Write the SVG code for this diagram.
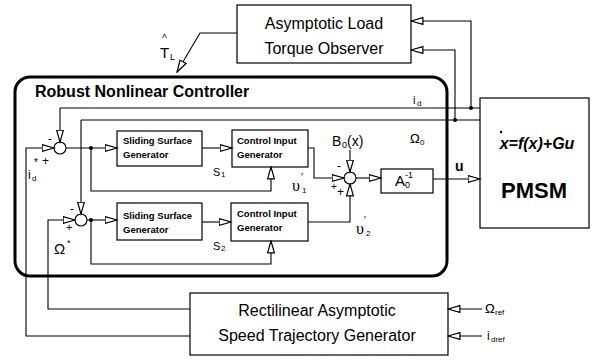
<svg xmlns="http://www.w3.org/2000/svg" width="596" height="360" viewBox="0 0 596 360">
<style>
.box{fill:#fff;stroke:#000;stroke-width:1.2}
.ln{fill:none;stroke:#000;stroke-width:1.1}
.arr{fill:none;stroke:#000;stroke-width:1.1;marker-end:url(#ah)}
.t{font-family:"Liberation Sans",Arial,sans-serif;fill:#000}
.big{font-size:16px}
.sm{font-size:9.5px;font-weight:bold}
.ups{font-family:"Liberation Serif","Times New Roman",serif;font-size:16px;fill:#000}
.sum{fill:#fff;stroke:#000;stroke-width:1.1}
</style>
<defs>
<marker id="ah" markerWidth="14" markerHeight="9" refX="12.5" refY="4" orient="auto" markerUnits="userSpaceOnUse">
<path d="M0.6,0.6 L12.5,4 L0.6,7.4 z" fill="#fff" stroke="#000" stroke-width="1.2"/>
</marker>
</defs>
<rect width="596" height="360" fill="#fff"/>

<g id="controller">
<rect x="15" y="77" width="432" height="199" rx="15" fill="none" stroke="#000" stroke-width="3"/>
<text class="t" x="35" y="97" font-size="16" font-weight="bold">Robust Nonlinear Controller</text>
</g>

<g id="observer">
<rect class="box" x="237" y="5" width="174" height="58"/>
<text class="t big" x="324" y="29" text-anchor="middle">Asymptotic Load</text>
<text class="t big" x="324" y="54" text-anchor="middle">Torque Observer</text>
</g>

<g id="generator">
<rect class="box" x="190" y="293" width="258" height="62"/>
<text class="t big" x="317" y="316" text-anchor="middle">Rectilinear Asymptotic</text>
<text class="t big" x="317" y="341" text-anchor="middle">Speed Trajectory Generator</text>
</g>

<g id="pmsm">
<rect class="box" x="480" y="98" width="109" height="130"/>
<text class="t" x="537" y="149" font-size="16" font-weight="bold" font-style="italic" text-anchor="middle">x=f(x)+Gu</text>
<circle cx="501" cy="132" r="1.2" fill="#000"/>
<text class="t" x="534" y="198" font-size="22" font-weight="bold" text-anchor="middle">PMSM</text>
</g>

<g id="ssg1">
<rect class="box" x="117" y="131" width="85" height="35"/>
<text class="t sm" x="123" y="144">Sliding Surface</text>
<text class="t sm" x="123" y="158">Generator</text>
</g>
<g id="cig1">
<rect class="box" x="232" y="130" width="76" height="37"/>
<text class="t sm" x="237" y="144">Control Input</text>
<text class="t sm" x="237" y="158">Generator</text>
</g>
<g id="ssg2">
<rect class="box" x="117" y="203" width="85" height="37"/>
<text class="t sm" x="123" y="219">Sliding Surface</text>
<text class="t sm" x="123" y="233">Generator</text>
</g>
<g id="cig2">
<rect class="box" x="231" y="203" width="77" height="38"/>
<text class="t sm" x="237" y="217">Control Input</text>
<text class="t sm" x="237" y="231">Generator</text>
</g>
<g id="ainv">
<rect class="box" x="381" y="169" width="52" height="24"/>
<text class="t" x="395" y="186" font-size="15">A</text>
<text class="t" x="405" y="188" font-size="9">0</text>
<text class="t" x="405" y="178" font-size="9">-1</text>
</g>

<g id="sum1"><circle class="sum" cx="60" cy="148" r="6"/></g>
<g id="sum2"><circle class="sum" cx="81" cy="220" r="6"/></g>
<g id="sum3"><circle class="sum" cx="350" cy="178" r="6"/></g>

<g id="connectors">
<path class="arr" d="M471,108 V21 H411"/>
<path class="arr" d="M455,120 V50 H411"/>
<path class="arr" d="M237,33 H200 L177,72"/>
<path class="ln" d="M480,108 H60"/>
<path class="arr" d="M60,108 V142"/>
<path class="ln" d="M480,120 H81"/>
<path class="arr" d="M81,120 V214"/>
<circle cx="471" cy="108" r="2" fill="#000"/>
<circle cx="455" cy="120" r="2" fill="#000"/>
<path class="arr" d="M190,336 H26 V148 H54"/>
<path class="arr" d="M190,309 H48 V220 H75"/>
<path class="arr" d="M482,309 H448"/>
<path class="arr" d="M482,336 H448"/>
<path class="arr" d="M66,148 H117"/>
<circle cx="91" cy="148" r="2" fill="#000"/>
<path class="arr" d="M91,148 V191 H271 V167"/>
<path class="arr" d="M202,148 H232"/>
<path class="arr" d="M308,148 H314 V178 H344"/>
<path class="arr" d="M87,220 H117"/>
<circle cx="91" cy="220" r="2" fill="#000"/>
<path class="arr" d="M91,220 V264 H271 V241"/>
<path class="arr" d="M202,222 H231"/>
<path class="arr" d="M308,222 H350 V184"/>
<path class="arr" d="M350,150 V172"/>
<path class="arr" d="M356,178 H381"/>
<path class="arr" d="M433,179 H480"/>
</g>

<g id="labels">
<text class="t" x="160" y="58" font-size="15">T</text>
<text class="t" x="170" y="60" font-size="9">L</text>
<text class="t" x="162" y="42" font-size="10">^</text>
<text class="t" x="413" y="104" font-size="11">i</text>
<text class="t" x="417" y="106" font-size="8">d</text>
<text class="t" x="410" y="143" font-size="13">Ω</text>
<text class="t" x="420" y="145" font-size="8">0</text>
<text class="t" x="455" y="171" font-size="14" font-weight="bold">u</text>
<text class="t" x="332" y="146" font-size="14">B</text>
<text class="t" x="342" y="148" font-size="9">0</text>
<text class="t" x="347" y="146" font-size="14">(x)</text>
<text class="t" x="337" y="170" font-size="12">-</text>
<text class="t" x="331" y="190" font-size="10">+</text>
<text class="t" x="337" y="196" font-size="12">+</text>
<text class="ups" x="292" y="191">υ</text>
<text class="t" x="302" y="193" font-size="8">1</text>
<text class="t" x="301" y="181" font-size="10">′</text>
<text class="ups" x="356" y="234">υ</text>
<text class="t" x="366" y="236" font-size="8">2</text>
<text class="t" x="364" y="224" font-size="10">′</text>
<text class="t" x="213" y="176" font-size="11">S</text>
<text class="t" x="221" y="177" font-size="8">1</text>
<text class="t" x="213" y="250" font-size="11">S</text>
<text class="t" x="221" y="251" font-size="8">2</text>
<text class="t" x="48" y="143" font-size="12">-</text>
<text class="t" x="28" y="179" font-size="12">i</text>
<text class="t" x="32" y="181" font-size="8">d</text>
<text class="t" x="34" y="166" font-size="10">*</text>
<text class="t" x="42" y="165" font-size="12">+</text>
<text class="t" x="70" y="213" font-size="12">-</text>
<text class="t" x="66" y="231" font-size="11">+</text>
<text class="t" x="54" y="254" font-size="15">Ω</text>
<text class="t" x="67" y="246" font-size="9">*</text>
<text class="t" x="485" y="313" font-size="13">Ω</text>
<text class="t" x="495" y="315" font-size="8">ref</text>
<text class="t" x="487" y="340" font-size="12">i</text>
<text class="t" x="491" y="342" font-size="8">dref</text>
</g>
</svg>
